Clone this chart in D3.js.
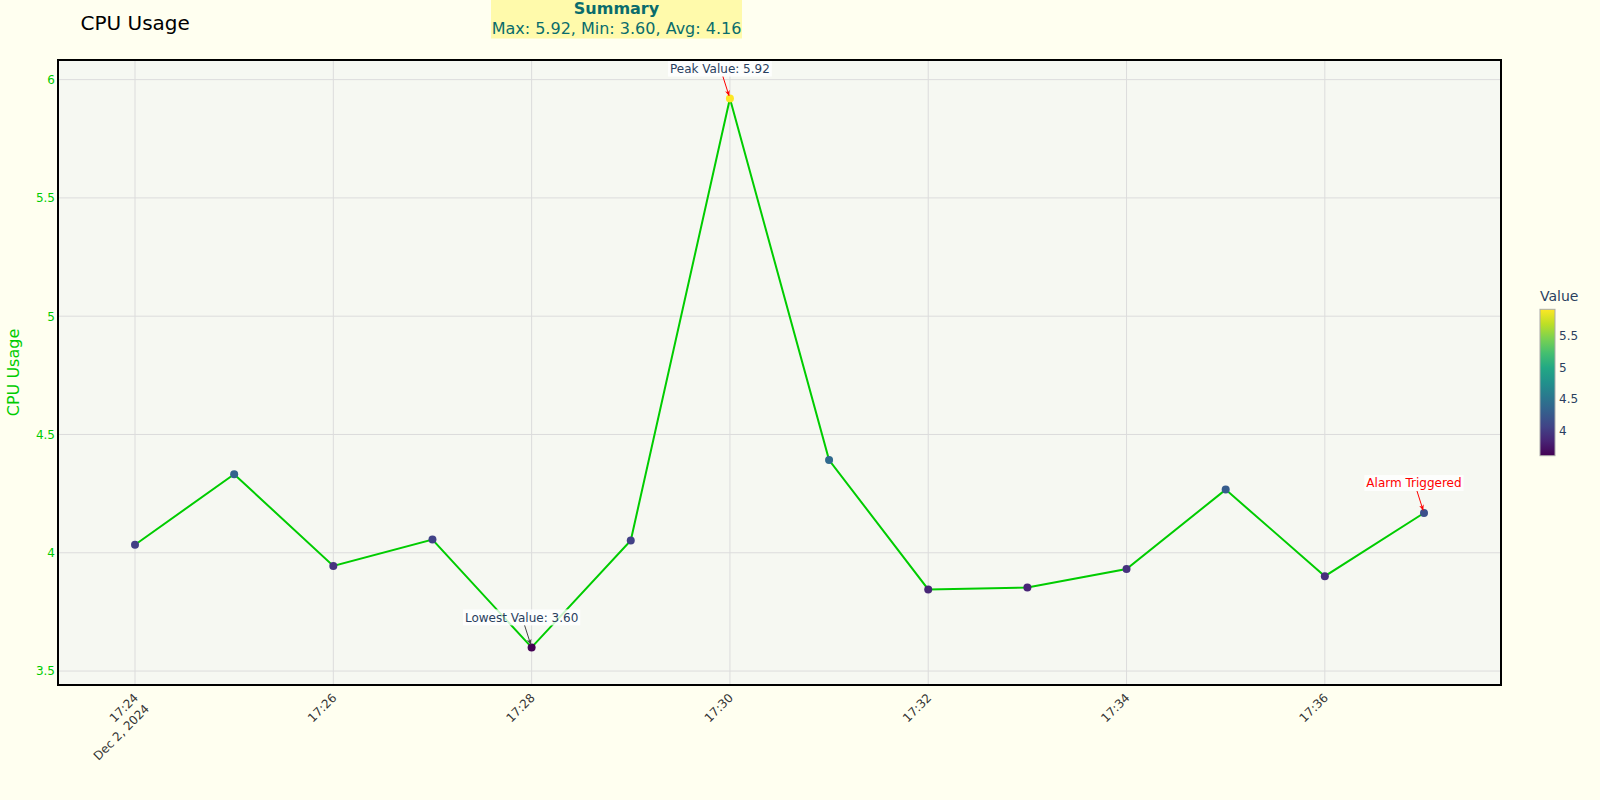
<!DOCTYPE html>
<html>
<head>
<meta charset="utf-8">
<script src="https://cdn.jsdelivr.net/npm/d3@7"></script>
<style>
  body { margin: 0; background: #fffff0; }
  svg { display: block; font-family: "DejaVu Sans", sans-serif; }
</style>
</head>
<body>
<div id="chart"></div>
<script>
// data
var day = "2024-12-02";
var times = ["17:24", "17:25", "17:26", "17:27", "17:28", "17:29", "17:30",
             "17:31", "17:32", "17:33", "17:34", "17:35", "17:36", "17:37"];
var cpu = [4.034, 4.332, 3.944, 4.056, 3.60, 4.052, 5.92,
           4.392, 3.845, 3.853, 3.931, 4.267, 3.901, 4.168];
var yTicks = [3.5, 4, 4.5, 5, 5.5, 6];
var barTicks = [4, 4.5, 5, 5.5];
var notes = [
  {time: "17:30", text: "Peak Value: 5.92", color: "#2a3f5f", arrow: "red"},
  {time: "17:28", text: "Lowest Value: 3.60", color: "#2a3f5f", arrow: "#444"},
  {time: "17:37", text: "Alarm Triggered", color: "red", arrow: "red"}
];

var W = 1600, H = 800;
var margin = {top: 60, right: 99, bottom: 115, left: 58},
    width = W - margin.left - margin.right,
    height = H - margin.top - margin.bottom;

var parse = d3.timeParse("%Y-%m-%d %H:%M");
var data = times.map(function(t, i) { return {date: parse(day + " " + t), value: cpu[i]}; });

var svg = d3.select("#chart").append("svg")
    .attr("width", W)
    .attr("height", H);

svg.append("rect").attr("width", W).attr("height", H).attr("fill", "#fffff0");

// scales
var ext = d3.extent(data, function(d) { return d.date; });
var pad = 46.6 * 1000;
var x = d3.scaleTime()
    .domain([new Date(+ext[0] - pad), new Date(+ext[1] + pad)])
    .range([0, width]);
var y = d3.scaleLinear()
    .domain([3.441, 6.083])
    .range([height, 0]);
var vmin = d3.min(cpu), vmax = d3.max(cpu), vavg = d3.mean(cpu);
var color = d3.scaleSequential(d3.interpolateViridis).domain([vmin, vmax]);

var g = svg.append("g")
    .attr("transform", "translate(" + margin.left + "," + margin.top + ")");

g.append("rect")
    .attr("width", width)
    .attr("height", height)
    .attr("fill", "#f6f8f2");

// grid
var xTicks = x.ticks(d3.timeMinute.every(2));
g.append("g").selectAll("line").data(xTicks).enter().append("line")
    .attr("x1", function(d) { return x(d); })
    .attr("x2", function(d) { return x(d); })
    .attr("y1", 0).attr("y2", height)
    .attr("stroke", "#dcdcdc").attr("stroke-width", 1);
g.append("g").selectAll("line").data(yTicks).enter().append("line")
    .attr("x1", 0).attr("x2", width)
    .attr("y1", function(d) { return y(d); })
    .attr("y2", function(d) { return y(d); })
    .attr("stroke", "#dcdcdc").attr("stroke-width", 1);

// y axis
var yAxis = g.append("g")
    .call(d3.axisLeft(y).tickValues(yTicks).tickSize(0).tickPadding(3).tickFormat(d3.format("")));
yAxis.select(".domain").remove();
yAxis.selectAll("text")
    .attr("fill", "#00cc00")
    .style("font-size", "12px")
    .style("font-family", "DejaVu Sans");

// x axis labels, rotated
var fmtTime = d3.timeFormat("%H:%M"), fmtDay = d3.timeFormat("%b %-d, %Y");
var xl = g.append("g").selectAll("text").data(xTicks).enter().append("text")
    .attr("transform", function(d) { return "translate(" + (x(d) + 1) + "," + (height + 10.5) + ") rotate(-45)"; })
    .attr("text-anchor", "end")
    .attr("fill", "#333")
    .style("font-size", "12px");
xl.append("tspan").attr("x", 0).attr("dy", "0.35em").text(function(d) { return fmtTime(d); });
xl.filter(function(d, i) { return i === 0; })
  .append("tspan").attr("x", 0).attr("dy", "1.3em").text(function(d) { return fmtDay(d); });

// line and points
g.append("path")
    .datum(data)
    .attr("fill", "none")
    .attr("stroke", "#00cc00")
    .attr("stroke-width", 2)
    .attr("d", d3.line()
        .x(function(d) { return x(d.date); })
        .y(function(d) { return y(d.value); }));

g.append("g").selectAll("circle").data(data).enter().append("circle")
    .attr("cx", function(d) { return x(d.date); })
    .attr("cy", function(d) { return y(d.value); })
    .attr("r", 4)
    .attr("fill", function(d) { return color(d.value); });

// annotations
svg.append("defs").selectAll("marker").data(["red", "#444"]).enter().append("marker")
    .attr("id", function(d, i) { return "ah" + i; })
    .attr("viewBox", "0 0 10 10")
    .attr("refX", 9).attr("refY", 5)
    .attr("markerWidth", 6).attr("markerHeight", 6)
    .attr("orient", "auto")
  .append("path")
    .attr("d", "M0,1 L10,5 L0,9 L3,5 Z")
    .attr("fill", function(d) { return d; });

notes.forEach(function(n) {
  var d = data.find(function(p) { return fmtTime(p.date) === n.time; });
  var px = x(d.date), py = y(d.value);
  var tx = px - 10, ty = py - 30;
  var ng = g.append("g");
  var t = ng.append("text")
      .attr("x", tx).attr("y", ty)
      .attr("dy", "0.35em")
      .attr("text-anchor", "middle")
      .attr("fill", n.color)
      .style("font-size", "12px")
      .text(n.text);
  var bb = t.node().getBBox();
  ng.insert("rect", "text")
      .attr("x", bb.x - 2).attr("y", ty - 8)
      .attr("width", bb.width + 4).attr("height", 16)
      .attr("fill", "white").attr("fill-opacity", 0.8);
  // arrow from box bottom to the point
  var sx = tx + 3, sy = ty + 8;
  var dx = px - sx, dy = py - sy, len = Math.sqrt(dx * dx + dy * dy);
  ng.append("line")
      .attr("x1", sx).attr("y1", sy)
      .attr("x2", px - dx / len * 3).attr("y2", py - dy / len * 3)
      .attr("stroke", n.arrow).attr("stroke-width", 1)
      .attr("marker-end", "url(#ah" + (n.arrow === "red" ? 0 : 1) + ")");
});

// frame
g.append("rect")
    .attr("width", width).attr("height", height)
    .attr("fill", "none").attr("stroke", "#000").attr("stroke-width", 2);

// titles
svg.append("text")
    .attr("x", 80.5).attr("y", 30)
    .attr("fill", "#000")
    .style("font-size", "20px")
    .text("CPU Usage");

svg.append("text")
    .attr("transform", "translate(13.5," + (margin.top + height / 2) + ") rotate(-90)")
    .attr("dy", "0.35em")
    .attr("text-anchor", "middle")
    .attr("fill", "#00cc00")
    .style("font-size", "16px")
    .text("CPU Usage");

// summary box
var sumX = 616.5;
svg.append("rect")
    .attr("x", 491).attr("y", -5).attr("width", 251).attr("height", 43.5)
    .attr("fill", "#fffaab");
svg.append("text")
    .attr("x", sumX).attr("y", 13.5)
    .attr("text-anchor", "middle")
    .attr("fill", "#0a6c6c")
    .style("font-size", "16px").style("font-weight", "bold")
    .text("Summary");
svg.append("text")
    .attr("x", sumX).attr("y", 34)
    .attr("text-anchor", "middle")
    .attr("fill", "#0a6c6c")
    .style("font-size", "16px")
    .text("Max: " + vmax.toFixed(2) + ", Min: " + vmin.toFixed(2) + ", Avg: " + vavg.toFixed(2));

// colorbar
var cbX = 1540, cbW = 15, cbTop = 309.3, cbBot = 455.7;
var grad = svg.select("defs").append("linearGradient")
    .attr("id", "cbgrad")
    .attr("x1", 0).attr("y1", 1).attr("x2", 0).attr("y2", 0);
d3.range(0, 1.0001, 0.1).forEach(function(t) {
  grad.append("stop").attr("offset", t).attr("stop-color", d3.interpolateViridis(t));
});
svg.append("rect")
    .attr("x", cbX).attr("y", cbTop).attr("width", cbW).attr("height", cbBot - cbTop)
    .attr("fill", "url(#cbgrad)")
    .attr("stroke", "#aaa").attr("stroke-width", 1);
var cy = d3.scaleLinear().domain([vmin, vmax]).range([cbBot, cbTop]);
var cbAxis = svg.append("g")
    .attr("transform", "translate(" + (cbX + cbW) + ",0)")
    .call(d3.axisRight(cy).tickValues(barTicks).tickSize(0).tickPadding(4).tickFormat(d3.format("")));
cbAxis.select(".domain").remove();
cbAxis.selectAll("text")
    .attr("fill", "#2a3f5f")
    .style("font-size", "12px")
    .style("font-family", "DejaVu Sans");
svg.append("text")
    .attr("x", cbX).attr("y", 301)
    .attr("fill", "#2a3f5f")
    .style("font-size", "14px")
    .text("Value");
</script>
</body>
</html>
